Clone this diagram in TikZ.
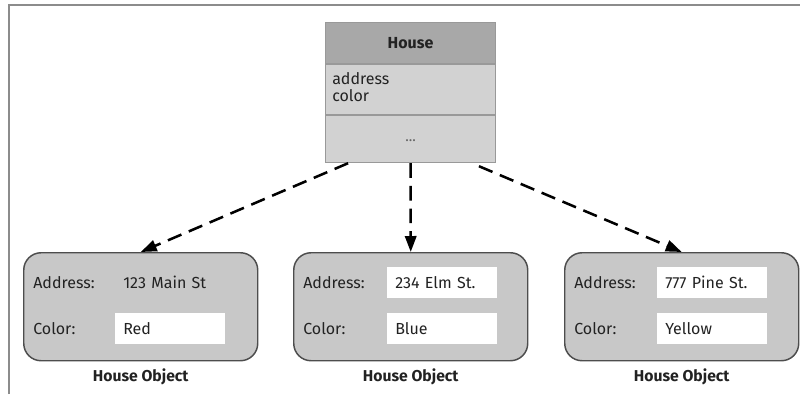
\documentclass[tikz,border=0pt]{standalone}
\usepackage{fontspec}
\setmainfont{Fira Sans}
\usetikzlibrary{arrows.meta,calc}
\definecolor{framecol}{HTML}{8C8C8C}
\definecolor{hdrfill}{HTML}{A8A8A8}
\definecolor{secfill}{HTML}{D2D2D2}
\definecolor{secline}{HTML}{999999}
\definecolor{objfill}{HTML}{C8C8C8}
\definecolor{objline}{HTML}{4D4D4D}
\definecolor{txt}{HTML}{222222}
\tikzset{
  frameline/.style={draw=framecol, line width=1.5pt},
  hdrbox/.style={draw=secline, fill=hdrfill, line width=0.8pt, minimum width=127.5pt, minimum height=30.75pt, inner sep=0pt},
  secbox/.style={draw=secline, fill=secfill, line width=0.8pt, minimum width=127.5pt, inner sep=0pt},
  objbox/.style={draw=objline, fill=objfill, line width=1.1pt, rounded corners=13pt, minimum width=175.5pt, minimum height=81pt, inner sep=0pt},
  lbl/.style={anchor=west, inner sep=0pt},
  valbox/.style={anchor=west, fill=white, text width=70.5pt, inner xsep=6pt, inner ysep=0pt, minimum height=23.25pt, align=left},
  valplain/.style={valbox, fill=none},
  caption/.style={font=\fontsize{11.8}{13}\selectfont\bfseries, inner sep=0pt},
  dep/.style={draw=black, line width=1.9pt, dash pattern=on 11pt off 6pt, -{Triangle[length=12pt,width=8.5pt]}}
}
\begin{document}
\begin{tikzpicture}[x=0.75pt,y=-0.75pt, font=\fontsize{12}{13}\selectfont, text=txt]
\useasboundingbox (0,0) rectangle (800,394);
\draw[frameline] (9,394) -- (9,5) -- (800,5);

% class box
\node[hdrbox, anchor=north west, font=\fontsize{12}{13}\selectfont\bfseries] (hdr) at (325,22) {House};
\node[secbox, anchor=north west, minimum height=37.5pt] (attr) at (hdr.south west) {};
\node[anchor=north west, align=left, inner sep=0pt] (attrtxt) at ($(attr.north west)+(7,8)$) {address\\color};
\node[secbox, anchor=north west, minimum height=35.25pt] (meth) at (attr.south west) {};
\node[inner sep=0pt, font=\fontsize{11}{12}\selectfont, text=black!60] (dots) at ($(meth.center)+(0,1)$) {...};

% object 1
\node[objbox, anchor=north west] (o1) at (23,252) {};
\node[lbl] (o1al) at ($(o1.north west)+(10,30.5)$) {Address:};
\node[valplain] (o1av) at ($(o1.north west)+(92,30.5)$) {123 Main St};
\node[lbl] (o1cl) at ($(o1.north west)+(10,76.5)$) {Color:};
\node[valbox] (o1cv) at ($(o1.north west)+(92,76.5)$) {Red};
\node[caption] (o1cap) at ($(o1.south)+(0,15)$) {House Object};

% object 2
\node[objbox, anchor=north west] (o2) at (293,252) {};
\node[lbl] (o2al) at ($(o2.north west)+(10,30.5)$) {Address:};
\node[valbox] (o2av) at ($(o2.north west)+(94,30.5)$) {234 Elm St.};
\node[lbl] (o2cl) at ($(o2.north west)+(10,76.5)$) {Color:};
\node[valbox] (o2cv) at ($(o2.north west)+(94,76.5)$) {Blue};
\node[caption] (o2cap) at ($(o2.south)+(0,15)$) {House Object};

% object 3
\node[objbox, anchor=north west] (o3) at (564,252) {};
\node[lbl] (o3al) at ($(o3.north west)+(10,30.5)$) {Address:};
\node[valbox] (o3av) at ($(o3.north west)+(93,30.5)$) {777 Pine St.};
\node[lbl] (o3cl) at ($(o3.north west)+(10,76.5)$) {Color:};
\node[valbox] (o3cv) at ($(o3.north west)+(93,76.5)$) {Yellow};
\node[caption] (o3cap) at ($(o3.south)+(0,15)$) {House Object};

% connectors
\draw[dep] ($(meth.south west)!0.135!(meth.south east)$) -- (o1.north);
\draw[dep] (meth.south) -- (o2.north);
\draw[dep] ($(meth.south west)!0.9!(meth.south east)+(0,3)$) -- (o3.north);
\end{tikzpicture}
\end{document}
